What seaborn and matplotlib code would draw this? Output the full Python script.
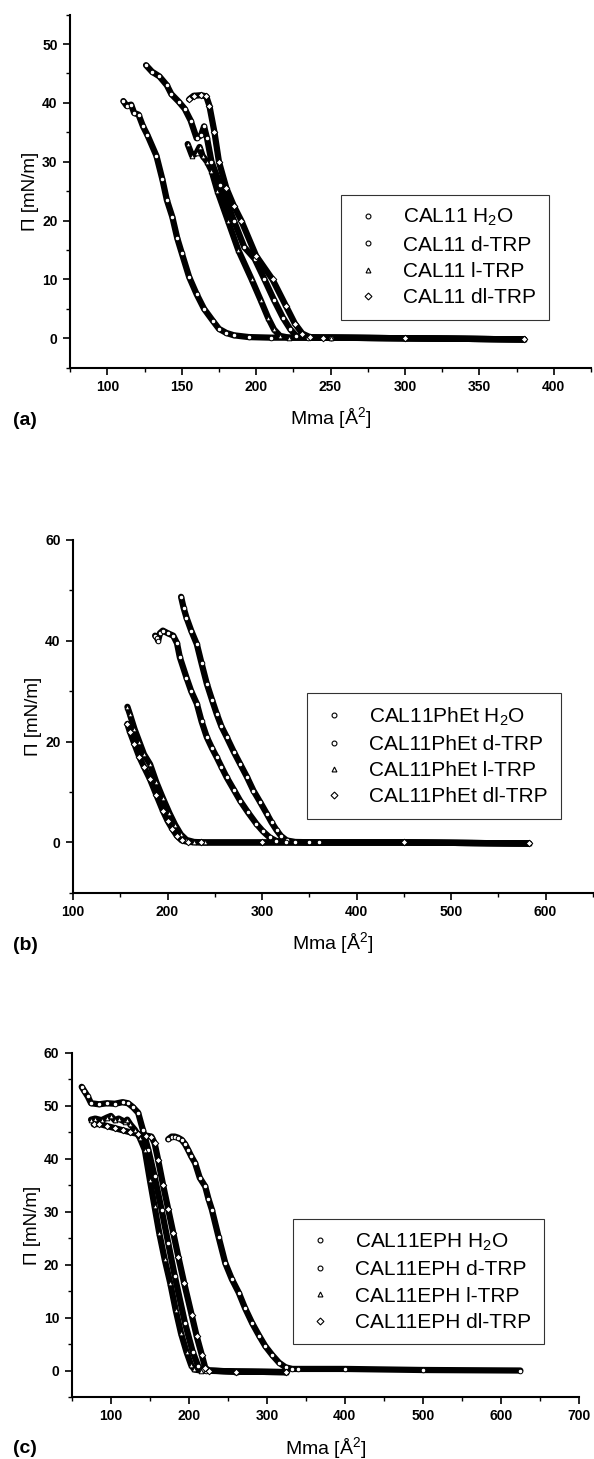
import matplotlib
matplotlib.use('Agg')
import matplotlib.pyplot as plt
import seaborn as sns
from matplotlib.lines import Line2D
from matplotlib.ticker import MultipleLocator

sns.set_style('ticks')
plt.rcParams['font.family'] = ['Liberation Sans', 'DejaVu Sans']
plt.rcParams['mathtext.fontset'] = 'custom'
plt.rcParams['mathtext.rm'] = 'Liberation Sans'
for k in ['text.color', 'axes.labelcolor', 'xtick.color', 'ytick.color', 'axes.edgecolor']:
    plt.rcParams[k] = 'black'

# ---- panel (a): CAL11 ----
a_h2o_x = [110.8, 113, 116, 118, 121, 124, 127, 133, 137, 140, 143.7, 147, 150, 155, 160, 165, 170.8, 175, 180, 185, 195, 210, 250, 300, 380]
a_h2o_y = [40.3, 39.5, 39.7, 38.3, 38, 36, 34.5, 31, 27, 23.5, 20.6, 17, 14.5, 10.4, 7.5, 5, 3, 1.6, 0.9, 0.5, 0.2, 0.1, 0.1, 0, -0.2]
a_d_x = [126, 130, 135, 140, 143, 148, 152, 156, 160, 163, 165, 167, 170, 176, 185, 192, 199, 205.6, 212, 218, 223, 227, 235, 250, 300, 380]
a_d_y = [46.4, 45.3, 44.5, 43, 41.5, 40.2, 39, 37, 34, 34.5, 36, 34, 30, 26, 20, 15.5, 13.5, 10, 6.5, 3.5, 1.5, 0.4, 0.1, 0.1, 0, -0.2]
a_l_x = [154, 157, 160, 162, 164, 167, 170, 174, 181, 188, 197, 203, 208, 212, 216, 222, 250, 300, 380]
a_l_y = [33, 31, 31.5, 32.5, 31, 30, 28.5, 25, 20, 15, 10, 6.5, 3.5, 1.5, 0.4, 0.1, 0.1, 0, -0.2]
a_dl_x = [155, 158, 163, 166.5, 168.6, 172, 175, 180, 185, 190, 200, 211, 220, 226, 231, 236, 245, 300, 380]
a_dl_y = [40.6, 41.2, 41.3, 41.1, 39.5, 35, 30, 25.5, 22.5, 20, 14, 10, 5.5, 2.5, 0.8, 0.2, 0.1, 0, -0.2]
a_labels = ['CAL11 H$\\mathregular{_2}$O', 'CAL11 d-TRP', 'CAL11 l-TRP', 'CAL11 dl-TRP']

# ---- panel (b): CAL11PhEt ----
b_h2o_x = [214.3, 217, 220, 225, 231, 236, 241.5, 247, 252, 257, 262.6, 270, 276.7, 284, 290.8, 298, 305, 310, 315.5, 320, 326, 335, 360, 450, 582]
b_h2o_y = [48.7, 46.5, 44.6, 42, 39.3, 35.5, 31.5, 28.3, 25.5, 23, 20.9, 18, 15.6, 13, 10.3, 8, 5.7, 4, 2.4, 1.3, 0.4, 0.1, 0, 0, -0.2]
b_d_x = [186.8, 189, 190, 192, 195, 200, 206, 210, 213, 220, 225, 231, 236, 241.5, 247, 252, 257, 262.6, 270, 276.7, 285, 294, 301, 308, 315, 325, 350, 450, 582]
b_d_y = [41, 40.5, 40, 41.5, 42, 41.5, 41, 39.5, 36.7, 32.7, 30, 27.5, 24, 20.9, 18.7, 16.9, 15, 12.9, 10.5, 8.3, 6, 3.7, 2.2, 1, 0.3, 0.1, 0, 0, -0.2]
b_l_x = [157.5, 160, 165, 170, 175, 181.5, 188, 195, 202, 208, 214, 220, 228, 240, 300, 450, 582]
b_l_y = [26.9, 25.5, 22.5, 20, 17.5, 15.5, 12, 8.8, 5.8, 3.5, 1.6, 0.5, 0.1, 0, 0, 0, -0.2]
b_dl_x = [157.5, 160, 165, 170, 175, 181.5, 188, 195, 200, 205, 210, 215, 222, 235, 300, 450, 582]
b_dl_y = [23.5, 22, 19.5, 17, 15, 12.5, 9.5, 6.3, 4.3, 2.7, 1.3, 0.4, 0.1, 0, 0, 0, -0.2]
b_labels = ['CAL11PhEt H$\\mathregular{_2}$O', 'CAL11PhEt d-TRP', 'CAL11PhEt l-TRP', 'CAL11PhEt dl-TRP']

# ---- panel (c): CAL11EPH ----
c_h2o_x = [62.6, 66, 70.3, 74.6, 85, 95, 105, 115, 122, 128, 135, 141, 148, 156, 165, 173.5, 182, 195, 205, 212, 216.5, 222, 260, 325]
c_h2o_y = [53.6, 52.8, 51.8, 50.5, 50.3, 50.5, 50.4, 50.7, 50.5, 49.8, 48.7, 45.5, 41.7, 36.7, 30.4, 24.1, 17.8, 9, 3.5, 0.8, 0.1, 0, -0.2, -0.3]
c_d_x = [173.5, 178, 182, 186, 190.7, 195, 199, 203, 208, 214, 220.9, 225, 229.5, 238, 246.7, 255, 264, 272, 281, 290, 298, 307, 315.5, 324, 332.6, 340, 400, 500, 625]
c_d_y = [43.7, 44.2, 44.2, 44, 43.6, 42.8, 41.7, 40.5, 39.2, 36.4, 34.8, 32.5, 30.4, 25.3, 20.3, 17.3, 14.7, 11.8, 9, 6.6, 4.6, 2.9, 1.5, 0.6, 0.3, 0.3, 0.3, 0.1, 0]
c_l_x = [74.6, 80, 88, 95, 100, 105, 110, 117.7, 121, 125, 130.6, 137, 143.5, 150, 156, 162, 169, 176, 183, 190, 197, 203, 207, 215, 260, 325]
c_l_y = [47.4, 47.6, 47.3, 47.8, 48.1, 47.3, 47.6, 47, 47.4, 46.5, 45.5, 44, 41.7, 36, 31, 26, 21, 16.6, 11.5, 7, 3.5, 1, 0.2, 0, -0.2, -0.3]
c_dl_x = [78, 85, 95, 105, 115, 125, 135, 145, 152, 156, 160.6, 167, 173.5, 180, 186.5, 194, 203.6, 210, 216.5, 221, 226, 260, 325]
c_dl_y = [46.5, 46.6, 46.2, 45.8, 45.4, 45, 44.7, 44.4, 44.2, 43, 39.8, 35, 30.5, 26, 21.5, 16.5, 10.5, 6.5, 3, 0.5, 0, -0.2, -0.3]
c_labels = ['CAL11EPH H$\\mathregular{_2}$O', 'CAL11EPH d-TRP', 'CAL11EPH l-TRP', 'CAL11EPH dl-TRP']

markers = ['o', 'o', '^', 'D']

fig = plt.figure(figsize=(5.94, 14.59), dpi=100)

panels = [
    # axes rect, series, labels, xlim, ylim, xmaj, xmin, ymaj, ymin, legend anchor, tag y
    ([0.118, 0.748, 0.877, 0.242],
     [(a_h2o_x, a_h2o_y), (a_d_x, a_d_y), (a_l_x, a_l_y), (a_dl_x, a_dl_y)],
     a_labels, (75, 425), (-5, 55), 50, 25, 10, 5, (0.52, 0.49), 0.709, '(a)'),
    ([0.123, 0.388, 0.875, 0.242],
     [(b_h2o_x, b_h2o_y), (b_d_x, b_d_y), (b_l_x, b_l_y), (b_dl_x, b_dl_y)],
     b_labels, (100, 650), (-10, 60), 100, 50, 20, 10, (0.45, 0.567), 0.349, '(b)'),
    ([0.121, 0.0425, 0.8535, 0.2358],
     [(c_h2o_x, c_h2o_y), (c_d_x, c_d_y), (c_l_x, c_l_y), (c_dl_x, c_dl_y)],
     c_labels, (50, 700), (-5, 60), 100, 50, 10, 5, (0.436, 0.517), 0.004, '(c)'),
]

for rect, series, labels, xlim, ylim, xmaj, xmin, ymaj, ymin, anchor, tag_y, tag in panels:
    ax = fig.add_axes(rect)
    for (xs, ys), m in zip(series, markers):
        sns.lineplot(x=xs, y=ys, ax=ax, color='black', lw=4.5, sort=False, estimator=None)
        sns.scatterplot(x=xs, y=ys, ax=ax, marker=m, s=11, facecolor='white',
                        edgecolor='black', linewidth=0.7, zorder=3)
    ax.set_xlim(*xlim)
    ax.set_ylim(*ylim)
    ax.xaxis.set_major_locator(MultipleLocator(xmaj))
    ax.xaxis.set_minor_locator(MultipleLocator(xmin))
    ax.yaxis.set_major_locator(MultipleLocator(ymaj))
    ax.yaxis.set_minor_locator(MultipleLocator(ymin))
    ax.tick_params(which='major', direction='out', length=5, width=1.2, pad=4, labelsize=10)
    ax.tick_params(which='minor', direction='out', length=3, width=1)
    for lbl in ax.get_xticklabels() + ax.get_yticklabels():
        lbl.set_fontweight('bold')
    sns.despine(ax=ax)
    for s in ['left', 'bottom']:
        ax.spines[s].set_linewidth(1.5)
    ax.set_xlabel('Mma [Å$\\mathregular{^2}$]', fontsize=14, labelpad=8)
    ax.set_ylabel('Π [mN/m]', fontsize=13.5, labelpad=2)

    handles = [Line2D([], [], ls='none', marker=m, ms=3.5, mfc='white', mec='black', mew=0.8)
               for m in markers]
    leg = ax.legend(handles, labels, loc='upper left', bbox_to_anchor=anchor, fontsize=15,
                    frameon=True, fancybox=False, edgecolor='black', handlelength=1.4,
                    handletextpad=1.0, labelspacing=0.35, borderpad=0.6, borderaxespad=0)
    leg.get_frame().set_linewidth(0.8)
    fig.text(0.022, tag_y, tag, fontsize=14, fontweight='bold')

fig.savefig('out.png', dpi=100)
